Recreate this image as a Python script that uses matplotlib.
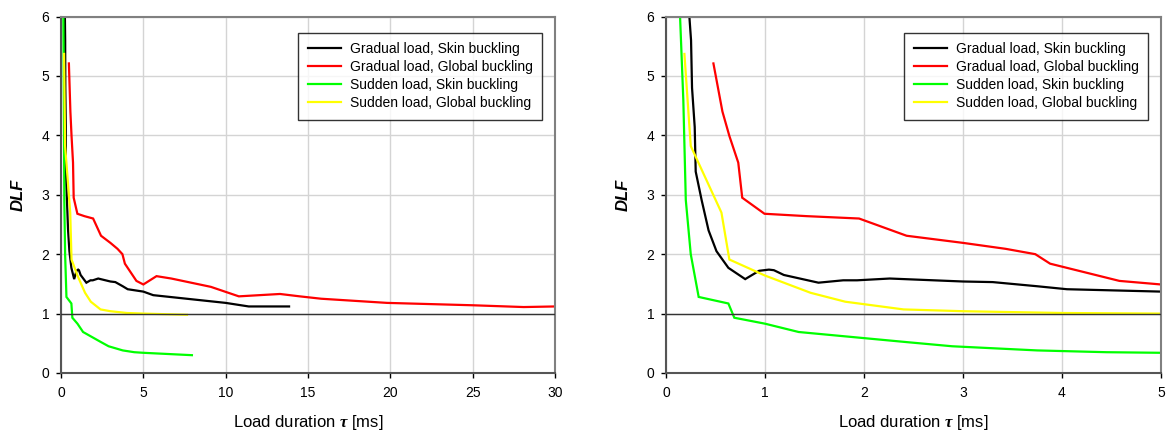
import matplotlib
matplotlib.use("Agg")
import matplotlib.pyplot as plt

plt.rcParams['font.family'] = ['Liberation Sans', 'DejaVu Sans']
plt.rcParams['mathtext.fontset'] = 'custom'
plt.rcParams['mathtext.it'] = 'Liberation Serif:italic:bold'
plt.rcParams['mathtext.rm'] = 'Liberation Sans'

# Load duration tau [ms] and dynamic load factor for each case
grad_skin_t = [0.236, 0.253, 0.263, 0.29, 0.30, 0.36, 0.43, 0.51, 0.63, 0.80, 0.94,
               1.04, 1.09, 1.19, 1.54, 1.79, 1.93, 2.26, 3.0, 3.3, 3.75, 4.05, 5.0,
               5.6, 10.0, 11.4, 13.85]
grad_skin_dlf = [6.0, 5.6, 4.8, 4.14, 3.39, 2.91, 2.40, 2.05, 1.77, 1.58, 1.72,
                 1.74, 1.73, 1.65, 1.52, 1.56, 1.56, 1.59, 1.54, 1.53, 1.46, 1.41, 1.37,
                 1.31, 1.18, 1.12, 1.12]

grad_glob_t = [0.479, 0.57, 0.64, 0.73, 0.77, 0.995, 1.42, 1.95, 2.43, 3.0, 3.43,
               3.73, 3.88, 4.58, 5.0, 5.8, 6.7, 9.1, 10.8, 13.3, 14.5, 15.8, 19.8,
               25.0, 28.1, 30.0]
grad_glob_dlf = [5.21, 4.40, 3.99, 3.54, 2.95, 2.68, 2.64, 2.60, 2.31, 2.19, 2.09,
                 2.0, 1.84, 1.55, 1.49, 1.63, 1.59, 1.45, 1.29, 1.33, 1.29, 1.25, 1.18,
                 1.14, 1.11, 1.12]

sud_skin_t = [0.142, 0.175, 0.20, 0.25, 0.33, 0.63, 0.69, 1.0, 1.34, 2.43, 2.89,
              3.75, 4.45, 5.0, 7.95]
sud_skin_dlf = [6.0, 4.59, 2.91, 2.0, 1.28, 1.17, 0.93, 0.83, 0.69, 0.52, 0.45,
                0.38, 0.35, 0.34, 0.30]

sud_glob_t = [0.186, 0.25, 0.56, 0.64, 1.0, 1.46, 1.81, 2.40, 3.0, 4.0, 5.0, 7.65]
sud_glob_dlf = [5.37, 3.82, 2.70, 1.91, 1.64, 1.35, 1.20, 1.07, 1.04, 1.01, 1.0, 0.98]

series = [
    ("Gradual load, Skin buckling", grad_skin_t, grad_skin_dlf, "#000000"),
    ("Gradual load, Global buckling", grad_glob_t, grad_glob_dlf, "#ff0000"),
    ("Sudden load, Skin buckling", sud_skin_t, sud_skin_dlf, "#00ff00"),
    ("Sudden load, Global buckling", sud_glob_t, sud_glob_dlf, "#ffff00"),
]

x_ranges = [(30, [0, 5, 10, 15, 20, 25, 30]), (5, [0, 1, 2, 3, 4, 5])]
y_ticks = [0, 1, 2, 3, 4, 5, 6]

W, H = 1169, 434
fig = plt.figure(figsize=(W / 100, H / 100), dpi=100)
axes_px = [(61, 494), (666, 495)]
bottom_px, top_px = 373, 16.5

for (x0, w), (xmax, xt) in zip(axes_px, x_ranges):
    ax = fig.add_axes([x0 / W, (H - bottom_px) / H, w / W, (bottom_px - top_px) / H])
    for label, t, d, c in series:
        ax.plot(t, d, color=c, lw=1.6, label=label, zorder=2, solid_joinstyle='miter')
    ax.axhline(1.0, color='#333333', lw=1.0, zorder=3)
    ax.set_xlim(0, xmax)
    ax.set_ylim(0, 6)
    ax.set_xticks(xt)
    ax.set_yticks(y_ticks)
    ax.grid(True, color='#d4d4d4', lw=1.0, zorder=0)
    ax.set_axisbelow(True)
    ax.tick_params(direction='out', length=3.5, width=1.0, labelsize=10,
                   colors='#000000', pad=5)
    ax.tick_params(axis='x', pad=6)
    for side in ['left', 'bottom']:
        ax.spines[side].set_color('#555555')
        ax.spines[side].set_linewidth(1.5)
    for side in ['top', 'right']:
        ax.spines[side].set_color('#808080')
        ax.spines[side].set_linewidth(1.5)
    ax.set_ylabel('DLF', fontsize=12, fontweight='bold', fontstyle='italic', labelpad=11)
    ax.set_xlabel(r'Load duration $\tau$ [ms]', fontsize=12, labelpad=9)
    leg = ax.legend(loc='upper right', bbox_to_anchor=(0.974, 0.955), fontsize=10,
                    frameon=True, fancybox=False, edgecolor='#000000',
                    handlelength=2.4, handletextpad=0.6, labelspacing=0.28,
                    borderpad=0.7, borderaxespad=0.0)
    leg.get_frame().set_linewidth(1.0)
    leg.set_zorder(5)

fig.savefig("out.png", dpi=100)
